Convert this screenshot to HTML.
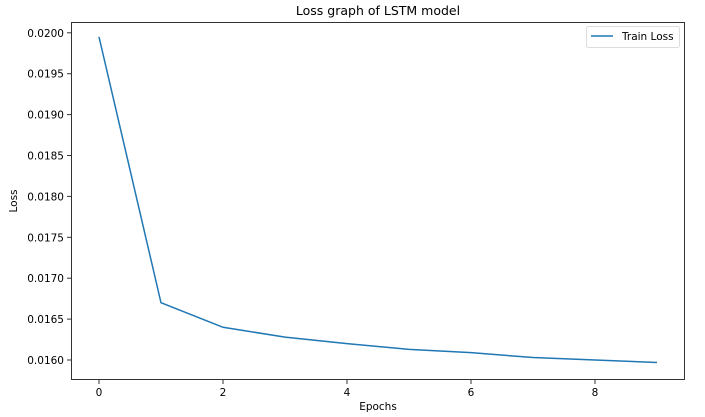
<!DOCTYPE html>
<html><head><meta charset="utf-8"><style>
body{margin:0;background:#fff;}
svg{display:block;font-family:"DejaVu Sans","Liberation Sans",sans-serif;}
</style></head><body>
<svg id="chart" width="705" height="417" viewBox="0 0 705 417">
<text x="378" y="15" text-anchor="middle" font-size="12.5" fill="#000">Loss graph of LSTM model</text>
<g id="axes"></g>
<g id="series"></g>
<rect x="71.5" y="22.5" width="613" height="357" fill="none" stroke="#333" stroke-width="1"/>
<text x="378" y="410" text-anchor="middle" font-size="10.5">Epochs</text>
<text x="17" y="201" text-anchor="middle" font-size="10.5" transform="rotate(-90 17 201)">Loss</text>
<g>
<rect x="586.5" y="26.5" width="93" height="21" rx="2" fill="#fff" stroke="#ddd"/>
<line x1="591" y1="36" x2="613" y2="36" stroke="#1f77b4" stroke-width="1.5"/>
<text x="622" y="40" font-size="10.5">Train Loss</text>
</g>
</svg>
<script>
const epochs=[0,1,2,3,4,5,6,7,8,9];
const trainLoss=[0.01995,0.01670,0.01640,0.01628,0.01620,0.01613,0.01609,0.01603,0.01600,0.01597];
const xTicks=[0,2,4,6,8];
const yTicks=[0.0160,0.0165,0.0170,0.0175,0.0180,0.0185,0.0190,0.0195,0.0200];
const ns="http://www.w3.org/2000/svg";
const xs=e=>99+e*62;
const ys=v=>360-(v-0.016)/0.0005*40.9;
const ax=document.getElementById('axes');
function mk(t,a,p){const el=document.createElementNS(ns,t);for(const k in a)el.setAttribute(k,a[k]);p.appendChild(el);return el;}
xTicks.forEach(t=>{
 const l=mk('line',{x1:xs(t),x2:xs(t),y1:380,y2:384,stroke:'#333'},ax);
 
 
 const tx=mk('text',{x:xs(t),y:396,'text-anchor':'middle','font-size':'10.5'},ax);tx.textContent=t;
 
 
});
yTicks.forEach(t=>{
 const l=mk('line',{x1:67,x2:71,y1:ys(t),y2:ys(t),stroke:'#333'},ax);
 
 
 const tx=mk('text',{x:64,y:ys(t)+4,'text-anchor':'end','font-size':'10.5'},ax);tx.textContent=t.toFixed(4);
 
 
});
const pts=epochs.map((e,i)=>xs(e)+','+ys(trainLoss[i])).join(' ');
const pl=mk('polyline',{points:pts,fill:'none',stroke:'#1f77b4','stroke-width':1.5},document.getElementById('series'));


</script>
</body></html>
